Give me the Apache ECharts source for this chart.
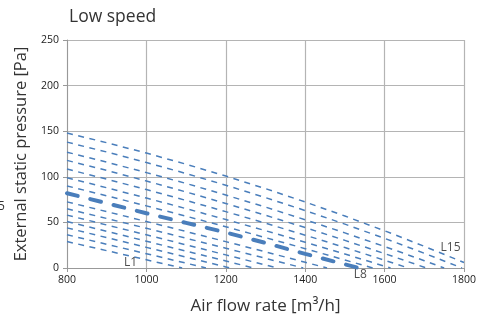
<!DOCTYPE html>
<html>
<head>
<meta charset="utf-8">
<script src="https://cdn.jsdelivr.net/npm/echarts@6/dist/echarts.min.js"></script>
<style>html,body{margin:0;padding:0;background:#fff}#c{width:479px;height:322px}</style>
</head>
<body>
<div id="c"></div>
<script>
var flowRate = [800, 900, 1000, 1100, 1200, 1300, 1400, 1500, 1600, 1700, 1800];
var L1 = [29, 19, 9];
var L2 = [36.5, 26, 15.7, 5.3];
var L3 = [44, 33.3, 22.6, 11.9, 1.2];
var L4 = [51, 40.2, 29.4, 18.5, 7.7];
var L5 = [58, 47.2, 36.4, 25.4, 14.4, 3.3];
var L6 = [65, 54.3, 43.6, 32.6, 21.7, 10.6];
var L7 = [72.5, 61.8, 51, 40, 28.9, 17.7, 6.3];
var L8 = [82, 71, 60, 49.5, 39, 27.5, 15.5, 4];
var L9 = [90, 79.2, 68.1, 56.8, 45.2, 33.3, 21.2, 8.8];
var L10 = [99, 88, 76.7, 65.1, 53.2, 40.9, 28.3, 15.3, 2];
var L11 = [108.5, 97.4, 86, 74.1, 61.8, 49.1, 36, 22.5, 8.5];
var L12 = [118, 107, 95.4, 83.4, 70.8, 57.8, 44.3, 30.3, 15.8, 0.8];
var L13 = [127, 116.1, 104.6, 92.7, 80, 66.8, 52.9, 38.5, 23.6, 8];
var L14 = [138, 127.2, 115.7, 103.6, 90.8, 77.2, 63, 48.1, 32.5, 16.2];
var L15 = [148, 137.4, 126, 113.8, 100.8, 87, 72.4, 57, 40.8, 23.8, 6];
var zeroFlow = [1090, 1150, 1210, 1270, 1330, 1395, 1455, 1535, 1570, 1615, 1660, 1705, 1750, 1795, null];
var lineNames = ['L1','L2','L3','L4','L5','L6','L7','L8','L9','L10','L11','L12','L13','L14','L15'];
var curves = [L1,L2,L3,L4,L5,L6,L7,L8,L9,L10,L11,L12,L13,L14,L15];
var tagNames = ['L1', 'L8', 'L15'];
var tagFlow = [960, 1539, 1766];
var tagPressure = [5.8, -7.3, 22];

var blue = '#4a7ebb';
var font = 'Open Sans';
var series = [];
curves.forEach(function (vals, i) {
  var pts = vals.map(function (v, k) { return [flowRate[k], v]; });
  if (zeroFlow[i] !== null) pts.push([zeroFlow[i], 0]);
  var thick = lineNames[i] === 'L8';
  series.push({
    type: 'line', name: lineNames[i], data: pts, symbol: 'none', z: thick ? 5 : 3,
    lineStyle: thick ? {color: blue, width: 4, type: [11, 13], cap: 'round'}
                     : {color: blue, width: 1.5, type: [6, 5.5]}
  });
});
series.push({
  type: 'scatter', symbolSize: 0, clip: false, z: 6,
  data: tagNames.map(function (n, i) { return {value: [tagFlow[i], tagPressure[i]], name: n}; }),
  label: {show: true, position: 'inside', formatter: '{b}', color: '#222', fontSize: 12, fontFamily: font}
});

var chart = echarts.init(document.getElementById('c'), null, {renderer: 'canvas'});
chart.setOption({
  animation: false,
  backgroundColor: '#fff',
  title: {text: 'Low speed', left: 64, top: 3, textStyle: {fontSize: 17.5, fontWeight: 'normal', color: '#333', fontFamily: font}},
  grid: {left: 67, right: 12, top: 40, bottom: 54},
  xAxis: {
    type: 'value', min: 800, max: 1800, interval: 200,
    name: 'Air flow rate [m\u00b3/h]', nameLocation: 'middle', nameGap: 30,
    nameTextStyle: {fontSize: 17, color: '#333', fontFamily: font},
    axisLine: {show: true, lineStyle: {color: '#999'}},
    axisTick: {show: true, length: 4, lineStyle: {color: '#999'}},
    axisLabel: {fontSize: 10.5, color: '#222', margin: 7, fontFamily: font, formatter: function (v) { return String(v); }},
    splitLine: {show: true, lineStyle: {color: '#b4b4b4', width: 1.2}}
  },
  yAxis: {
    type: 'value', min: 0, max: 250, interval: 50,
    name: 'External static pressure [Pa]', nameLocation: 'middle', nameGap: 35,
    nameTextStyle: {fontSize: 16.5, color: '#333', fontFamily: font},
    axisLine: {show: true, lineStyle: {color: '#999'}},
    axisTick: {show: true, length: 4, lineStyle: {color: '#999'}},
    axisLabel: {fontSize: 10.5, color: '#222', margin: 8, fontFamily: font},
    splitLine: {show: true, lineStyle: {color: '#b4b4b4', width: 1.2}}
  },
  graphic: [{type: 'text', left: -2, top: 201, style: {text: '5', fontSize: 12, fill: '#333', fontFamily: font}}],
  series: series
});
</script>
</body>
</html>
